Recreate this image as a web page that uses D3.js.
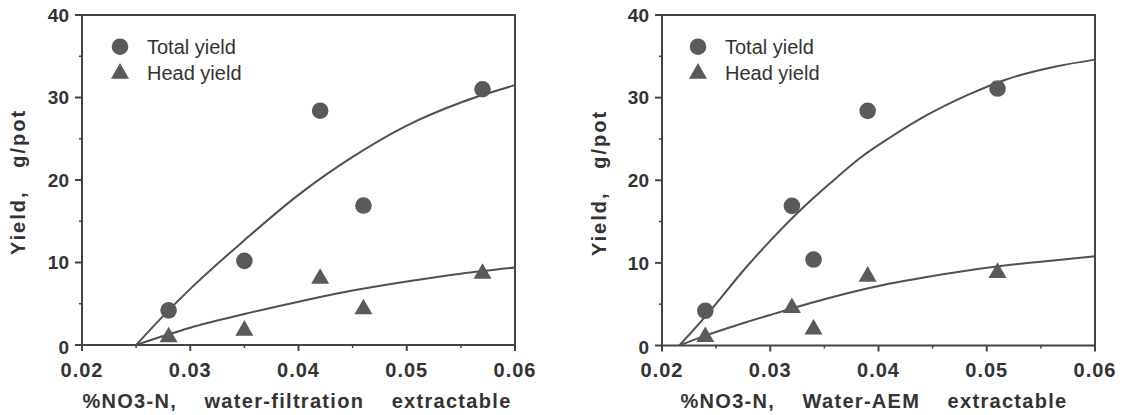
<!DOCTYPE html>
<html>
<head>
<meta charset="utf-8">
<script src="https://cdn.jsdelivr.net/npm/d3@7"></script>
<style>
  body { margin: 0; background: #fff; }
  text { font-family: Arial, "Liberation Sans", Helvetica, sans-serif; fill: #333; }
</style>
</head>
<body>
<script>
// tick labels
var xTicks = [0.02, 0.03, 0.04, 0.05, 0.06];
var xMinor = [0.025, 0.035, 0.045, 0.055];
var yTicks = [0, 10, 20, 30, 40];
var yMinor = [5, 15, 25, 35];
var seriesNames = ["Total yield", "Head yield"];

// left panel: water-filtration
var filtX = [0.028, 0.035, 0.042, 0.046, 0.057];
var filtTotal = [4.2, 10.2, 28.4, 16.9, 31.0];
var filtHead = [1.2, 2.0, 8.3, 4.6, 8.9];
// fitted curves
var filtFitX = [0.025, 0.028, 0.030, 0.035, 0.040, 0.045, 0.050, 0.055, 0.060];
var filtTotalFit = [0, 4.2, 6.8, 12.7, 18.2, 22.8, 26.6, 29.4, 31.5];
var filtHeadFit = [0, 1.3, 2.1, 3.75, 5.25, 6.6, 7.7, 8.65, 9.4];

// right panel: Water-AEM
var aemX = [0.024, 0.032, 0.034, 0.039, 0.051];
var aemTotal = [4.2, 16.9, 10.4, 28.4, 31.1];
var aemHead = [1.3, 4.8, 2.2, 8.6, 9.05];
var aemFitX = [0.0216, 0.024, 0.0278, 0.0328, 0.0355, 0.0383, 0.0411, 0.0445, 0.0482, 0.0518, 0.0565, 0.060];
var aemTotalFit = [0, 3.5, 9.5, 16.4, 19.6, 22.7, 25.2, 27.9, 30.3, 32.2, 33.8, 34.6];
var aemHeadX = [0.0216, 0.024, 0.027, 0.030, 0.035, 0.040, 0.045, 0.050, 0.055, 0.060];
var aemHeadFit = [0, 1.2, 2.5, 3.7, 5.6, 7.2, 8.4, 9.4, 10.15, 10.8];

var ink = "#444";
var markFill = "#5a5a5a";

var svg = d3.select("body").append("svg")
    .attr("width", 1124)
    .attr("height", 415);

function drawPanel(p) {
  var x = d3.scaleLinear().domain([0.02, 0.06]).range([p.left, p.right]);
  var y = d3.scaleLinear().domain([0, 40]).range([p.bottom, p.top]);
  var g = svg.append("g");

  // frame
  g.append("rect")
      .attr("x", x(0.02)).attr("y", y(40))
      .attr("width", x(0.06) - x(0.02)).attr("height", y(0) - y(40))
      .attr("fill", "none").attr("stroke", ink).attr("stroke-width", 2);

  // y axis ticks + labels
  g.selectAll(".ytick").data(yTicks).enter().append("line")
      .attr("x1", x(0.02) - 7).attr("x2", x(0.02))
      .attr("y1", function(d) { return y(d); }).attr("y2", function(d) { return y(d); })
      .attr("stroke", ink).attr("stroke-width", 2);
  g.selectAll(".yminor").data(yMinor).enter().append("line")
      .attr("x1", x(0.02) - 3).attr("x2", x(0.02))
      .attr("y1", function(d) { return y(d); }).attr("y2", function(d) { return y(d); })
      .attr("stroke", ink).attr("stroke-width", 1.5);
  g.selectAll(".ylab").data(yTicks).enter().append("text")
      .attr("x", x(0.02) - 13)
      .attr("y", function(d) { return y(d) + (d === 0 ? 2 : 0); })
      .attr("dy", "0.36em")
      .attr("text-anchor", "end")
      .style("font-size", "19px").style("font-weight", "bold")
      .text(function(d) { return d; });

  // x axis ticks + labels
  g.selectAll(".xtick").data(xTicks).enter().append("line")
      .attr("x1", function(d) { return x(d); }).attr("x2", function(d) { return x(d); })
      .attr("y1", y(0)).attr("y2", y(0) + 6)
      .attr("stroke", ink).attr("stroke-width", 2);
  g.selectAll(".xminor").data(xMinor).enter().append("line")
      .attr("x1", function(d) { return x(d); }).attr("x2", function(d) { return x(d); })
      .attr("y1", y(0)).attr("y2", y(0) + 3)
      .attr("stroke", ink).attr("stroke-width", 1.5);
  g.selectAll(".xlab").data(xTicks).enter().append("text")
      .attr("x", function(d) { return x(d); })
      .attr("y", 377)
      .attr("text-anchor", "middle")
      .style("font-size", "20px").style("font-weight", "bold")
      .style("letter-spacing", "1px")
      .text(function(d) { return d3.format(".2f")(d); });

  // axis titles
  g.append("text")
      .attr("x", p.titleX).attr("y", 408)
      .attr("text-anchor", "middle")
      .style("font-size", "20px").style("font-weight", "bold")
      .style("letter-spacing", "1.3px").style("white-space", "pre")
      .text(p.xTitle);
  g.append("text")
      .attr("transform", "translate(" + p.yTitleX + "," + p.yTitleY + ") rotate(-90)")
      .attr("dy", "0.36em")
      .attr("text-anchor", "middle")
      .style("font-size", "20px").style("font-weight", "bold")
      .style("letter-spacing", "2px").style("white-space", "pre")
      .text("Yield,   g/pot");

  // fitted curves
  var line = d3.line()
      .x(function(d) { return x(d[0]); })
      .y(function(d) { return y(d[1]); })
      .curve(d3.curveMonotoneX);
  [[p.totalFitX, p.totalFit], [p.headFitX, p.headFit]].forEach(function(fit) {
    g.append("path")
        .datum(fit[0].map(function(v, i) { return [v, fit[1][i]]; }))
        .attr("d", line)
        .attr("fill", "none").attr("stroke", "#505050").attr("stroke-width", 2);
  });

  // points
  var circle = d3.symbol().type(d3.symbolCircle).size(216);
  var tri = d3.symbol().type(d3.symbolTriangle).size(140);
  g.selectAll(".tot").data(p.xs).enter().append("path")
      .attr("d", circle)
      .attr("transform", function(d, i) { return "translate(" + x(d) + "," + y(p.total[i]) + ")"; })
      .attr("fill", markFill);
  g.selectAll(".head").data(p.xs).enter().append("path")
      .attr("d", tri)
      .attr("transform", function(d, i) { return "translate(" + x(d) + "," + (y(p.head[i]) + 2) + ")"; })
      .attr("fill", markFill);

  // legend
  var lx = x(0.02) + p.legendDx;
  g.append("path").attr("d", circle)
      .attr("transform", "translate(" + lx + ",46.7)").attr("fill", markFill);
  g.append("path").attr("d", tri)
      .attr("transform", "translate(" + lx + ",73.5)").attr("fill", markFill);
  g.selectAll(".leg").data(seriesNames).enter().append("text")
      .attr("x", lx + 27)
      .attr("y", function(d, i) { return 54 + i * 26; })
      .style("font-size", "20px")
      .text(function(d) { return d; });
}

drawPanel({
  left: 82, right: 515, top: 15, bottom: 345,
  xs: filtX, total: filtTotal, head: filtHead,
  totalFitX: filtFitX, totalFit: filtTotalFit,
  headFitX: filtFitX, headFit: filtHeadFit,
  xTitle: "%NO3-N,    water-filtration    extractable",
  titleX: 297, yTitleX: 18, yTitleY: 182, legendDx: 38
});

drawPanel({
  left: 662, right: 1095, top: 15, bottom: 345.5,
  xs: aemX, total: aemTotal, head: aemHead,
  totalFitX: aemFitX, totalFit: aemTotalFit,
  headFitX: aemHeadX, headFit: aemHeadFit,
  xTitle: "%NO3-N,    Water-AEM    extractable",
  titleX: 874, yTitleX: 599, yTitleY: 183, legendDx: 36
});
</script>
</body>
</html>
